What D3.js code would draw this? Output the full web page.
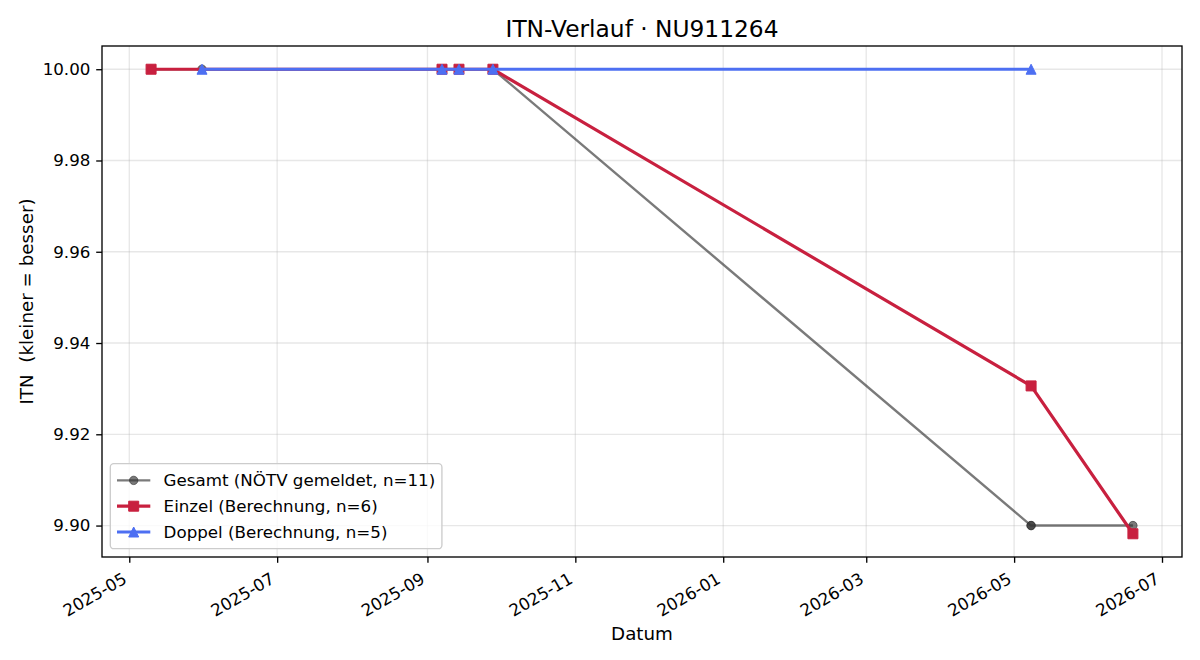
<!DOCTYPE html>
<html>
<head>
<meta charset="utf-8">
<script src="https://cdn.jsdelivr.net/npm/d3@7"></script>
<style>
  html, body { margin: 0; padding: 0; background: #fff; }
  svg { display: block; font-family: "DejaVu Sans", sans-serif; }
  text { white-space: pre; }
</style>
</head>
<body>
<svg id="chart" width="1200" height="660"></svg>
<script>
// ---- data ----
const titleText = "ITN-Verlauf · NU911264";
const xLabel = "Datum";
const yLabel = "ITN  (kleiner = besser)";

const gesamtDates = ["2025-05-10","2025-05-31","2025-09-07","2025-09-07","2025-09-14","2025-09-14","2025-09-28","2025-09-28","2026-05-08","2026-05-08","2026-06-19"];
const gesamtValues = [10.00,10.00,10.00,10.00,10.00,10.00,10.00,10.00,9.90,9.90,9.90];

const einzelDates = ["2025-05-10","2025-09-07","2025-09-14","2025-09-28","2026-05-08","2026-06-19"];
const einzelValues = [10.00,10.00,10.00,10.00,9.9306,9.8982];

const doppelDates = ["2025-05-31","2025-09-07","2025-09-14","2025-09-28","2026-05-08"];
const doppelValues = [10.00,10.00,10.00,10.00,10.00];

const yTicks = [9.90, 9.92, 9.94, 9.96, 9.98, 10.00];
const legendLabels = ["Gesamt (NÖTV gemeldet, n=11)", "Einzel (Berechnung, n=6)", "Doppel (Berechnung, n=5)"];

// ---- layout ----
const W = 1200, H = 660;
const m = {left: 102, right: 1182, top: 46, bottom: 557};
const parse = d3.utcParse("%Y-%m-%d");

const series = [
  {dates: gesamtDates, values: gesamtValues, color: "#333333", alpha: 0.65, lw: 2.4, marker: "circle", size: 8.4, label: legendLabels[0]},
  {dates: einzelDates, values: einzelValues, color: "#c8203f", alpha: 1, lw: 3.2, marker: "square", size: 10, label: legendLabels[1]},
  {dates: doppelDates, values: doppelValues, color: "#4d6ff2", alpha: 1, lw: 3.2, marker: "triangle", size: 10, label: legendLabels[2]}
];
series.forEach(s => s.pts = s.dates.map((d, i) => ({x: parse(d), y: s.values[i]})));

const allPts = series.flatMap(s => s.pts);
const xExt = d3.extent(allPts, p => p.x);
const xPad = (xExt[1] - xExt[0]) * 0.05;
const x = d3.scaleUtc()
  .domain([new Date(+xExt[0] - xPad), new Date(+xExt[1] + xPad)])
  .range([m.left, m.right]);
const yExt = d3.extent(allPts, p => p.y);
const yPad = (yExt[1] - yExt[0]) * 0.05;
const y = d3.scaleLinear()
  .domain([yExt[0] - yPad, yExt[1] + yPad])
  .range([m.bottom, m.top]);

const svg = d3.select("#chart");
svg.append("rect").attr("width", W).attr("height", H).attr("fill", "#fff");

const xTicks = x.ticks(d3.utcMonth.every(2));
const fmt = d3.utcFormat("%Y-%m");

// grid
const grid = svg.append("g");
grid.selectAll(".gx").data(xTicks).join("line")
  .attr("x1", d => x(d)).attr("x2", d => x(d))
  .attr("y1", m.top).attr("y2", m.bottom)
  .attr("stroke", "#b0b0b0").attr("stroke-opacity", 0.3).attr("stroke-width", 1.33);
grid.selectAll(".gy").data(yTicks).join("line")
  .attr("x1", m.left).attr("x2", m.right)
  .attr("y1", d => y(d)).attr("y2", d => y(d))
  .attr("stroke", "#b0b0b0").attr("stroke-opacity", 0.3).attr("stroke-width", 1.33);

// axes via d3
const xAxis = d3.axisBottom(x).tickValues(xTicks).tickFormat(fmt).tickSize(5.8).tickPadding(5.8);
const gx = svg.append("g").attr("transform", `translate(0,${m.bottom})`).call(xAxis);
gx.attr("font-family", "DejaVu Sans");
gx.select(".domain").remove();
gx.selectAll(".tick line").attr("stroke", "#000").attr("stroke-width", 1.33);
gx.selectAll(".tick text")
  .attr("font-size", 16.7).attr("fill", "#000")
  .attr("text-anchor", "end")
  .attr("dy", null).attr("y", null)
  .attr("dominant-baseline", "central")
  .attr("transform", "translate(-4.9,20) rotate(-30)");

const yAxis = d3.axisLeft(y).tickValues(yTicks).tickFormat(d3.format(".2f")).tickSize(5.8).tickPadding(5.8);
const gy = svg.append("g").attr("transform", `translate(${m.left},0)`).call(yAxis);
gy.attr("font-family", "DejaVu Sans");
gy.select(".domain").remove();
gy.selectAll(".tick line").attr("stroke", "#000").attr("stroke-width", 1.33);
gy.selectAll(".tick text").attr("font-size", 16.7).attr("fill", "#000");

// markers
function markerPath(type, size) {
  if (type === "circle") return d3.symbol(d3.symbolCircle, Math.PI * (size/2) * (size/2))();
  if (type === "square") return d3.symbol(d3.symbolSquare, size * size)();
  const r = size / 2;
  return `M0,${-r}L${r},${r}L${-r},${r}Z`;
}

const line = d3.line().x(p => x(p.x)).y(p => y(p.y));
const plot = svg.append("g");
series.forEach(s => {
  const g = plot.append("g");
  g.append("path").datum(s.pts).attr("d", line)
    .attr("fill", "none").attr("stroke", s.color).attr("stroke-opacity", s.alpha)
    .attr("stroke-width", s.lw).attr("stroke-linejoin", "round").attr("stroke-linecap", "butt");
  g.selectAll(".mk").data(s.pts).join("path")
    .attr("d", markerPath(s.marker, s.size))
    .attr("transform", p => `translate(${x(p.x)},${y(p.y)})`)
    .attr("fill", s.color).attr("fill-opacity", s.alpha)
    .attr("stroke", s.color).attr("stroke-opacity", s.alpha).attr("stroke-width", 1);
});

// spines
svg.append("rect").attr("x", m.left).attr("y", m.top)
  .attr("width", m.right - m.left).attr("height", m.bottom - m.top)
  .attr("fill", "none").attr("stroke", "#000").attr("stroke-width", 1.33);

// title & labels
svg.append("text").attr("x", (m.left + m.right) / 2).attr("y", 28)
  .attr("text-anchor", "middle").attr("dominant-baseline", "central")
  .attr("font-size", 23.3).attr("fill", "#000").text(titleText);
svg.append("text").attr("x", (m.left + m.right) / 2).attr("y", 633)
  .attr("text-anchor", "middle").attr("dominant-baseline", "central")
  .attr("font-size", 18.3).attr("fill", "#000").text(xLabel);
svg.append("text")
  .attr("xml:space", "preserve")
  .attr("transform", `translate(26,${(m.top + m.bottom) / 2}) rotate(-90)`)
  .attr("text-anchor", "middle").attr("dominant-baseline", "central")
  .attr("font-size", 18.3).attr("fill", "#000").text(yLabel);

// legend
const fs = 16.7;
const lg = svg.append("g");
const lx = m.left + 8.3, rowH = 25.8;
const box = lg.append("rect");
const items = lg.selectAll(".li").data(series).join("g")
  .attr("transform", (d, i) => `translate(${lx + 6.7},${m.bottom - 8.3 - 6.7 - rowH * (series.length - 1 - i) - 10})`);
items.append("line").attr("x1", 0).attr("x2", 33.3).attr("y1", 0).attr("y2", 0)
  .attr("stroke", d => d.color).attr("stroke-opacity", d => d.alpha).attr("stroke-width", d => d.lw);
items.append("path").attr("d", d => markerPath(d.marker, d.size))
  .attr("transform", "translate(16.7,0)")
  .attr("fill", d => d.color).attr("fill-opacity", d => d.alpha)
  .attr("stroke", d => d.color).attr("stroke-opacity", d => d.alpha).attr("stroke-width", 1);
const texts = items.append("text").attr("x", 46.6).attr("y", 0)
  .attr("dominant-baseline", "central").attr("font-size", fs).attr("fill", "#000")
  .text(d => d.label);
let maxW = 0;
texts.each(function() { maxW = Math.max(maxW, this.getComputedTextLength()); });
const boxTop = m.bottom - 8.3 - 6.7 - rowH * (series.length - 1) - 10 - 10 - 6.7;
box.attr("x", lx).attr("y", boxTop)
  .attr("width", 6.7 + 46.6 + maxW + 6.7)
  .attr("height", (m.bottom - 8.3) - boxTop)
  .attr("rx", 3.5).attr("ry", 3.5)
  .attr("fill", "#fff").attr("fill-opacity", 0.8)
  .attr("stroke", "#cccccc").attr("stroke-width", 1.33);
</script>
</body>
</html>
